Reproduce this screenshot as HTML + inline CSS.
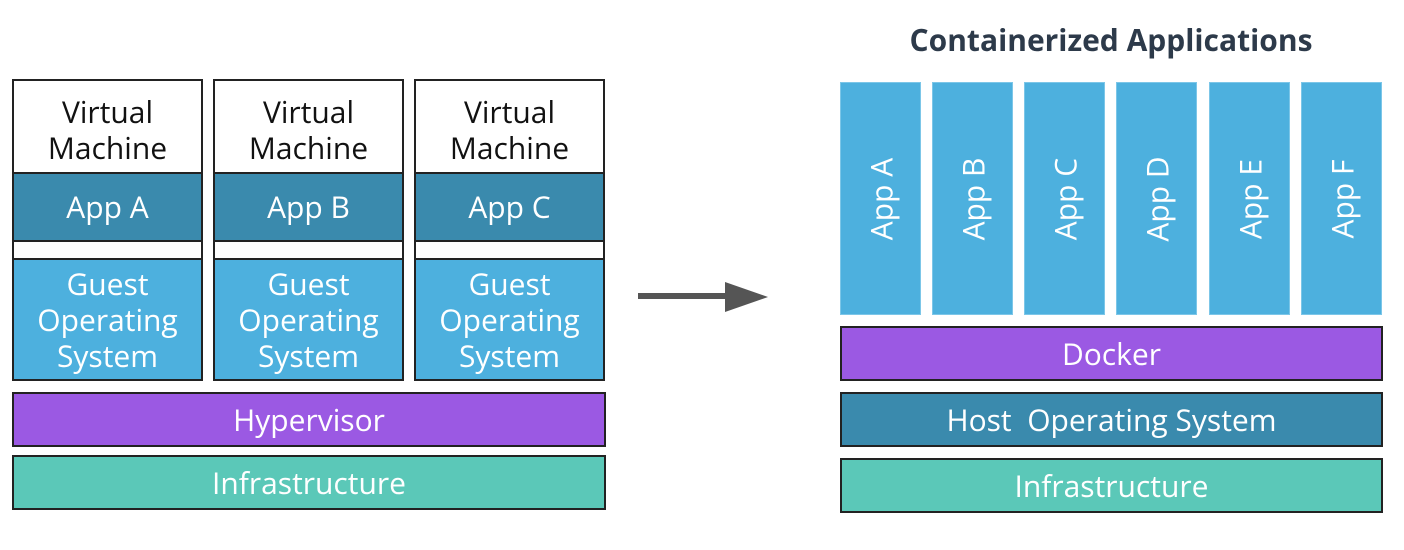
<!DOCTYPE html>
<html><head><meta charset="utf-8"><style>
body{margin:0;width:1404px;height:550px;background:#fff;position:relative;overflow:hidden;font-family:"Open Sans","Liberation Sans","DejaVu Sans",sans-serif}
.b{position:absolute;box-sizing:border-box;border:2px solid #222;display:flex;align-items:center;justify-content:center;text-align:center;color:#fff;font-size:30px;line-height:36px}
.w{background:#fff;color:#111}
.d{background:#3a8aad}
.g{background:#4db0de}
.p{background:#9b59e3}
.t{background:#5bc8b8}
.a{position:absolute;background:#4db0de;border:1px solid #7cc6e8;box-sizing:border-box;top:82px;height:233px;width:81px}
.a span{position:absolute;left:50%;top:50%;transform:translate(-50%,-50%) rotate(-90deg);color:#fff;font-size:30px;white-space:nowrap}
</style></head><body>
<div class="b w" style="left:12px;top:79px;width:191px;height:95px;padding-top:6px">Virtual<br>Machine</div>
<div class="b d" style="left:12px;top:172px;width:191px;height:70px">App A</div>
<div class="b w" style="left:12px;top:240px;width:191px;height:20px"></div>
<div class="b g" style="left:12px;top:258px;width:191px;height:123px">Guest<br>Operating<br>System</div>
<div class="b w" style="left:213px;top:79px;width:191px;height:95px;padding-top:6px">Virtual<br>Machine</div>
<div class="b d" style="left:213px;top:172px;width:191px;height:70px">App B</div>
<div class="b w" style="left:213px;top:240px;width:191px;height:20px"></div>
<div class="b g" style="left:213px;top:258px;width:191px;height:123px">Guest<br>Operating<br>System</div>
<div class="b w" style="left:414px;top:79px;width:191px;height:95px;padding-top:6px">Virtual<br>Machine</div>
<div class="b d" style="left:414px;top:172px;width:191px;height:70px">App C</div>
<div class="b w" style="left:414px;top:240px;width:191px;height:20px"></div>
<div class="b g" style="left:414px;top:258px;width:191px;height:123px">Guest<br>Operating<br>System</div>
<div class="b p" style="left:12px;top:392px;width:594px;height:55px">Hypervisor</div>
<div class="b t" style="left:12px;top:455px;width:594px;height:55px">Infrastructure</div>
<div style="position:absolute;left:638px;top:293px;width:90px;height:6px;background:#555"></div>
<div style="position:absolute;left:725px;top:282px;width:0;height:0;border-top:15px solid transparent;border-bottom:15px solid transparent;border-left:43px solid #555"></div>
<div style="position:absolute;left:840px;top:19px;width:542px;text-align:center;font-size:30px;font-weight:bold;color:#2d3a4a">Containerized Applications</div>
<div class="a" style="left:840px"><span>App A</span></div>
<div class="a" style="left:932px"><span>App B</span></div>
<div class="a" style="left:1024px"><span>App C</span></div>
<div class="a" style="left:1116px"><span>App D</span></div>
<div class="a" style="left:1209px"><span>App E</span></div>
<div class="a" style="left:1301px"><span>App F</span></div>
<div class="b p" style="left:840px;top:326px;width:543px;height:55px">Docker</div>
<div class="b d" style="left:840px;top:392px;width:543px;height:55px">Host&nbsp; Operating System</div>
<div class="b t" style="left:840px;top:458px;width:543px;height:55px">Infrastructure</div>
</body></html>
